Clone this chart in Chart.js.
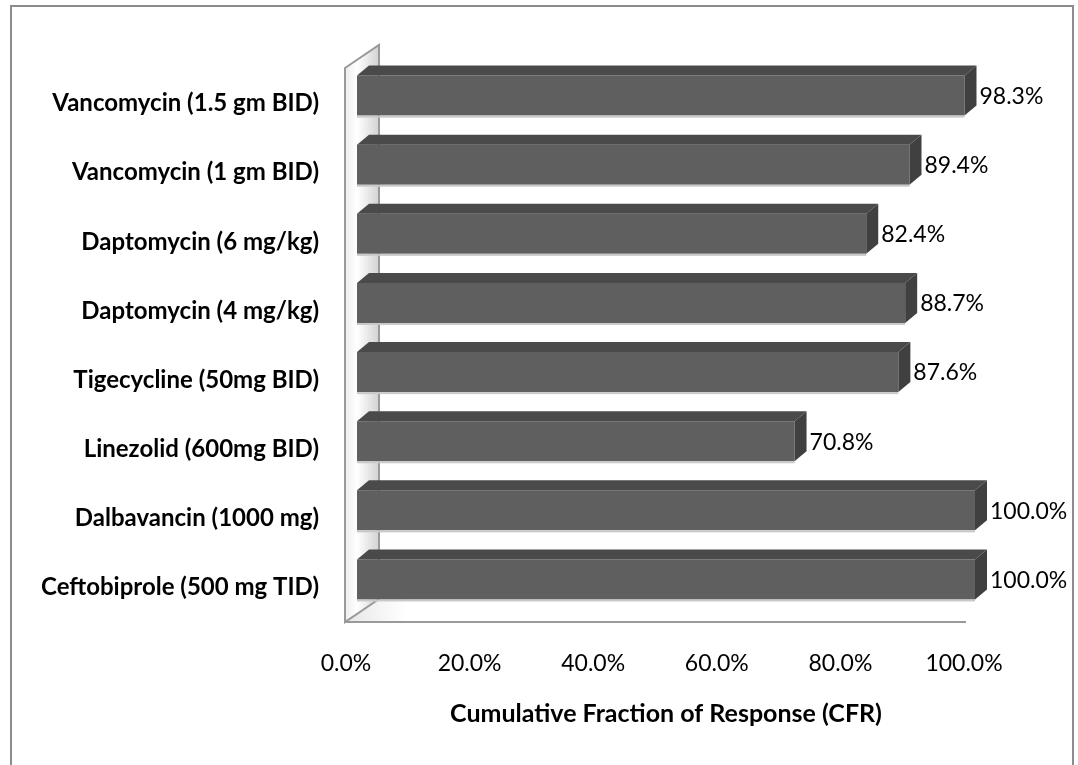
<!DOCTYPE html>
<html>
<head>
<meta charset="utf-8">
<script src="https://cdn.jsdelivr.net/npm/chart.js@4.4.1/dist/chart.umd.min.js"></script>
<style>
    html, body { margin: 0; padding: 0; background: #ffffff; }
    #wrap { width: 1078px; height: 765px; position: relative; }
</style>
</head>
<body>
<div id="wrap"><canvas id="cfrChart"></canvas></div>
<script>
const regimens = [
    'Vancomycin (1.5 gm BID)',
    'Vancomycin (1 gm BID)',
    'Daptomycin (6 mg/kg)',
    'Daptomycin (4 mg/kg)',
    'Tigecycline (50mg BID)',
    'Linezolid (600mg BID)',
    'Dalbavancin (1000 mg)',
    'Ceftobiprole (500 mg TID)'
];
const cfrValues = [98.3, 89.4, 82.4, 88.7, 87.6, 70.8, 100.0, 100.0];
const xTicks = [0, 20, 40, 60, 80, 100];

const FONT = 'Lato, "Open Sans", sans-serif';
const barDepth = {dx: 12, dy: -10};
const wallDepth = {dx: 34, dy: -23};

// outer frame of the chart object
const framePlugin = {
    id: 'frame',
    beforeDraw: (chart) => {
        const {ctx, width, height} = chart;
        ctx.save();
        ctx.fillStyle = '#ffffff';
        ctx.fillRect(0, 0, width, height);
        ctx.strokeStyle = '#8c8c8c';
        ctx.lineWidth = 2;
        ctx.beginPath();
        ctx.moveTo(11, height);
        ctx.lineTo(11, 6);
        ctx.lineTo(width - 5, 6);
        ctx.lineTo(width - 5, height);
        ctx.stroke();
        ctx.restore();
    }
};

// side wall + floor of the 3d plot area
const wallPlugin = {
    id: 'wall',
    beforeDatasetsDraw: (chart) => {
        const {ctx, chartArea, scales: {x}} = chart;
        const fx = x.getPixelForValue(0) - 12;
        const fr = x.getPixelForValue(100) - 9;
        const fTop = chartArea.top + 7;
        const fBot = chartArea.bottom + 8;
        const bx = fx + wallDepth.dx;
        ctx.save();
        // floor
        ctx.beginPath();
        ctx.moveTo(fx, fBot);
        ctx.lineTo(fr, fBot);
        ctx.lineTo(fr + wallDepth.dx, fBot + wallDepth.dy);
        ctx.lineTo(bx, fBot + wallDepth.dy);
        ctx.closePath();
        const fg = ctx.createLinearGradient(fx, 0, fx + 60, 0);
        fg.addColorStop(0, '#e6e6e6');
        fg.addColorStop(1, '#ffffff');
        ctx.fillStyle = fg;
        ctx.fill();
        // wall
        ctx.beginPath();
        ctx.moveTo(fx, fTop);
        ctx.lineTo(bx, fTop + wallDepth.dy);
        ctx.lineTo(bx, fBot + wallDepth.dy);
        ctx.lineTo(fx, fBot);
        ctx.closePath();
        const wg = ctx.createLinearGradient(fx, 0, bx, 0);
        wg.addColorStop(0, '#ededed');
        wg.addColorStop(0.35, '#ffffff');
        wg.addColorStop(1, '#d2d2d2');
        ctx.fillStyle = wg;
        ctx.fill();
        ctx.strokeStyle = '#9a9a9a';
        ctx.lineWidth = 2;
        ctx.stroke();
        ctx.beginPath();
        ctx.moveTo(fx, fBot);
        ctx.lineTo(fr, fBot);
        ctx.stroke();
        ctx.restore();
    }
};

// top and side faces of each bar, then the value labels
const bar3dPlugin = {
    id: 'bar3d',
    afterDatasetsDraw: (chart) => {
        const {ctx} = chart;
        const meta = chart.getDatasetMeta(0);
        ctx.save();
        meta.data.forEach((bar, i) => {
            const {x, y, base, height} = bar.getProps(['x', 'y', 'base', 'height'], true);
            const top = y - height / 2;
            const bot = y + height / 2;
            // light edge under the front face
            ctx.fillStyle = '#c9c9c9';
            ctx.fillRect(base, bot, x - base, 2);
            // top face
            ctx.beginPath();
            ctx.moveTo(base, top);
            ctx.lineTo(x, top);
            ctx.lineTo(x + barDepth.dx, top + barDepth.dy);
            ctx.lineTo(base + barDepth.dx, top + barDepth.dy);
            ctx.closePath();
            ctx.fillStyle = '#4a4a4a';
            ctx.fill();
            // side face
            ctx.beginPath();
            ctx.moveTo(x, top);
            ctx.lineTo(x + barDepth.dx, top + barDepth.dy);
            ctx.lineTo(x + barDepth.dx, bot + barDepth.dy);
            ctx.lineTo(x, bot);
            ctx.closePath();
            ctx.fillStyle = '#404040';
            ctx.fill();
            // value label
            ctx.fillStyle = '#000000';
            ctx.font = '23px ' + FONT;
            ctx.textAlign = 'left';
            ctx.textBaseline = 'middle';
            ctx.fillText(cfrValues[i].toFixed(1) + '%', x + barDepth.dx + 3, y + 1);
        });
        ctx.restore();
    }
};

Chart.defaults.color = '#000000';
Chart.defaults.font.family = FONT;

new Chart(document.getElementById('cfrChart').getContext('2d'), {
    type: 'bar',
    data: {
        labels: regimens,
        datasets: [{
            data: cfrValues,
            backgroundColor: '#5f5f5f',
            borderWidth: 0,
            barPercentage: 0.58,
            categoryPercentage: 1
        }]
    },
    options: {
        indexAxis: 'y',
        responsive: true,
        maintainAspectRatio: false,
        animation: false,
        layout: {
            padding: {top: 61, right: 103, bottom: 0, left: 0}
        },
        plugins: {
            legend: {display: false},
            tooltip: {enabled: false}
        },
        scales: {
            x: {
                min: 0,
                max: 100,
                afterBuildTicks: (scale) => {
                    scale.ticks = xTicks.map(v => ({value: v}));
                },
                afterFit: (scale) => { scale.height = 151; },
                grid: {display: false, drawTicks: false},
                border: {display: false},
                ticks: {
                    padding: 36,
                    labelOffset: -11,
                    maxRotation: 0,
                    font: {size: 23},
                    callback: (v) => Number(v).toFixed(1) + '%'
                },
                title: {
                    display: true,
                    text: 'Cumulative Fraction of Response (CFR)',
                    font: {size: 25, weight: 'bold'},
                    padding: {top: 0, bottom: 36}
                }
            },
            y: {
                afterFit: (scale) => { scale.width = 357; },
                grid: {display: false, drawTicks: false},
                border: {display: false},
                ticks: {
                    padding: 38,
                    labelOffset: 8,
                    font: {size: 24, weight: 'bold'}
                }
            }
        }
    },
    plugins: [framePlugin, wallPlugin, bar3dPlugin]
});
</script>
</body>
</html>
